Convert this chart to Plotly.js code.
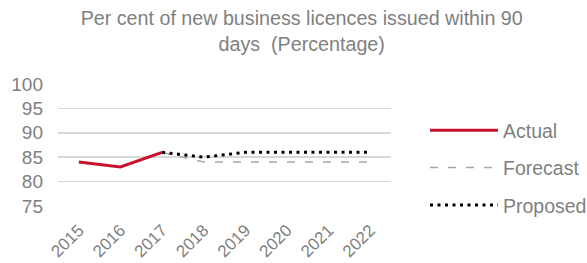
<!DOCTYPE html>
<html><head><meta charset="utf-8">
<script src="https://cdn.plot.ly/plotly-3.0.1.min.js"></script>
<style>body{margin:0;background:#fff}#c{width:587px;height:263px}</style>
</head><body><div id="c"></div>
<script>
const years = ['2015','2016','2017','2018','2019','2020','2021','2022'];
const actual = [84, 83, 86, null, null, null, null, null];
const forecast = [null, null, 86, 84, 84, 84, 84, 84];
const proposed = [null, null, 86, 85, 86, 86, 86, 86];
const yTicks = [75, 80, 85, 90, 95, 100];

const traces = [
  {x: years, y: actual, name: 'Actual', legendgroup: 'a', mode: 'lines', line: {color: '#C8102E', width: 3}},
  {x: years, y: forecast, name: 'Forecast', legendgroup: 'b', mode: 'lines', line: {color: '#A6A6A6', width: 1.5, dash: '8px,10px'}},
  {x: years, y: proposed, name: 'Proposed', legendgroup: 'c', mode: 'lines', line: {color: '#000000', width: 3, dash: '3px,4.5px'}}
];
const layout = {
  width: 587, height: 263,
  margin: {l: 58, r: 196, t: 84, b: 57},
  paper_bgcolor: '#fff', plot_bgcolor: '#fff',
  font: {family: 'Liberation Sans, Arial, sans-serif', color: '#7F7F7F'},
  title: {text: 'Per cent of new business licences issued within 90<br>days  (Percentage)', x: 0.514, xref: 'container', xanchor: 'center', y: 0.905, yref: 'container', yanchor: 'top', font: {size: 19.7, color: '#7F7F7F'}},
  xaxis: {type: 'category', range: [-0.5, 7.5], tickangle: -45, tickfont: {size: 17, color: '#7F7F7F'}, showgrid: false, showline: false, ticks: '', zeroline: false, ticklabelstandoff: 10, automargin: false},
  yaxis: {range: [75, 100], tickvals: yTicks, tickfont: {size: 19, color: '#7F7F7F'}, gridcolor: '#D9D9D9', gridwidth: 1.5, showline: false, zeroline: false, ticks: '', ticklabelstandoff: 14, automargin: false},
  showlegend: true,
  legend: {xref: 'container', yref: 'container', x: 0.724, y: 0.361, xanchor: 'left', yanchor: 'middle', font: {size: 19.5, color: '#7F7F7F'}, itemwidth: 68, traceorder: 'grouped', tracegroupgap: 9, bgcolor: 'rgba(0,0,0,0)'}
};
Plotly.newPlot('c', traces, layout, {displayModeBar: false, staticPlot: true});
</script></body></html>
